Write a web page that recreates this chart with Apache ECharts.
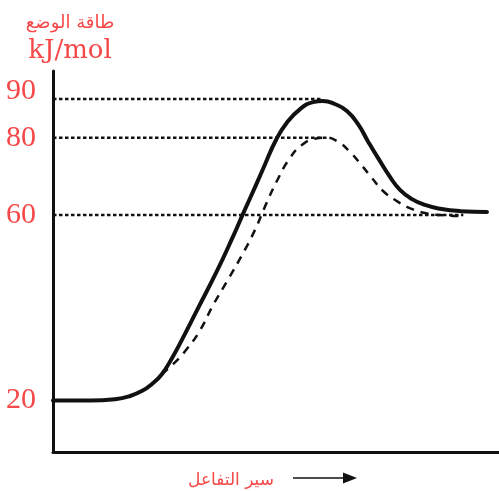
<!DOCTYPE html>
<html>
<head>
<meta charset="utf-8">
<script src="https://cdn.jsdelivr.net/npm/echarts@6/dist/echarts.min.js"></script>
<style>
  html, body { margin: 0; padding: 0; background: #fff; }
  #chart { width: 499px; height: 491px; }
</style>
</head>
<body>
<div id="chart"></div>
<script>
// energy levels shown on the y axis
const yLevels = [20, 60, 80, 90]

// reaction progress (0..100) and potential energy, uncatalysed path
const solidX = [0, 8.3, 13.9, 17.3, 20.0, 22.2, 24.4, 26.7, 28.9, 32.3, 36.8, 40.1, 42.8, 45.3, 47.5, 50.0, 52.5, 55.4, 58.3, 60.5,
    63.2, 65.9, 68.4, 70.6, 72.9, 75.6, 77.8, 80.5, 83.4, 86.8, 91.3, 97.3]
const solidE = [20, 20, 20.3, 21.0, 22.1, 23.6, 25.7, 29.2, 33.1, 39.5, 48.0, 54.8, 60.8, 67.2, 73.0, 79.4, 84.0, 87.4, 89.2, 89.5,
    88.7, 86.9, 83.5, 79.1, 74.7, 69.8, 66.5, 64.1, 62.6, 61.6, 61.0, 60.8]

// catalysed path (dashed)
const dashX = [24.4, 27.4, 30.0, 33.0, 35.9, 39.2, 42.4, 45.3, 47.5, 50.2, 53.1, 55.8, 58.7, 61.0, 63.7, 66.6, 69.3, 71.5, 74.0,
    77.1, 80.0, 83.4, 86.8, 91.3]
const dashE = [25.7, 28.3, 31.1, 35.2, 40.6, 46.0, 51.4, 56.8, 62.1, 68.8, 74.7, 78.1, 79.7, 80, 79.1, 76.3, 72.7, 69.6, 66.2,
    63.6, 61.8, 60.5, 60.0, 59.8]

// dotted guide lines: level and where they stop
const dotLevels = [90, 80, 60]
const dotEnds = [60.5, 61.5, 92]

const red = '#f54848'

// the drawing is schematic: below 60 the scale is stretched
function toAxis(e) {
    return e >= 60 ? e : 60 - (60 - e) * 1.2
}

function pairs(xs, es) {
    return xs.map(function (x, i) { return [x, toAxis(es[i])] })
}

var myChart = echarts.init(document.getElementById('chart'))
var series = []

dotLevels.forEach(function (lv, i) {
    series.push({
        type: 'line',
        data: [[0, toAxis(lv)], [dotEnds[i], toAxis(lv)]],
        symbol: 'none',
        silent: true,
        lineStyle: { color: '#111', width: 2.5, type: [3.5, 2.5] },
        z: 1
    })
})

series.push({
    type: 'line',
    data: pairs(dashX, dashE),
    symbol: 'none',
    smooth: 0.5,
    lineStyle: { color: '#111', width: 2.5, type: [8, 7] },
    z: 2
})

series.push({
    type: 'line',
    data: pairs(solidX, solidE),
    symbol: 'none',
    smooth: 0.5,
    lineStyle: { color: '#111', width: 4, cap: 'round' },
    z: 3
})

var option = {
    animation: false,
    title: {
        text: 'طاقة الوضع',
        subtext: 'kJ/mol',
        left: 65,
        top: 9,
        textAlign: 'center',
        itemGap: 6,
        textStyle: { fontFamily: 'DejaVu Sans', fontSize: 18, fontWeight: 'normal', color: red },
        subtextStyle: { fontFamily: 'DejaVu Serif', fontSize: 26, color: red }
    },
    grid: { left: 53, right: 0, top: 71, bottom: 39, outerBoundsMode: 'none' },
    xAxis: {
        type: 'value',
        min: 0,
        max: 100,
        name: 'سير التفاعل',
        nameLocation: 'middle',
        nameGap: 20,
        nameTextStyle: { fontFamily: 'DejaVu Sans', fontSize: 17, color: red, padding: [0, 90, 0, 0] },
        axisLine: { onZero: false, lineStyle: { color: '#111', width: 3 } },
        axisTick: { show: false },
        axisLabel: { show: false },
        splitLine: { show: false }
    },
    yAxis: {
        type: 'value',
        min: -1.29,
        max: 97.24,
        axisLine: { show: true, lineStyle: { color: '#111', width: 3 } },
        axisTick: { show: false },
        splitLine: { show: false },
        axisLabel: {
            customValues: yLevels.map(toAxis),
            margin: 17,
            formatter: function (v) {
                var lv = yLevels[yLevels.map(toAxis).indexOf(v)]
                return lv === 90 ? '{up|' + lv + '}' : '{n|' + lv + '}'
            },
            rich: {
                n: { fontFamily: 'Liberation Serif', fontSize: 30, color: red },
                up: { fontFamily: 'Liberation Serif', fontSize: 30, color: red, padding: [0, 0, 16, 0] }
            }
        }
    },
    graphic: [
        {
            type: 'line',
            shape: { x1: 293, y1: 478, x2: 345, y2: 478 },
            style: { stroke: '#111', lineWidth: 1.5 }
        },
        {
            type: 'polygon',
            shape: { points: [[343, 472.5], [357, 478], [343, 483.5]] },
            style: { fill: '#111' }
        }
    ],
    series: series
}

option && myChart.setOption(option)
</script>
</body>
</html>
